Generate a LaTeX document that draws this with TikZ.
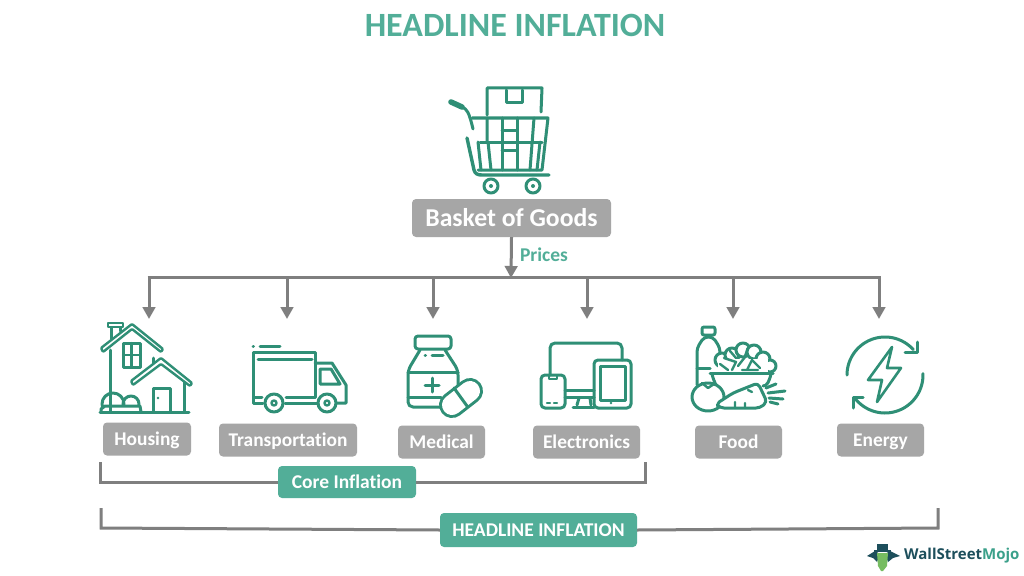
\documentclass[tikz,border=0pt]{standalone}
\usepackage{fontspec}
\setmainfont[Ligatures=NoCommon]{Carlito}
\newfontfamily\logofont{Open Sans}
\usetikzlibrary{arrows.meta}
\definecolor{tealbox}{HTML}{52AE98}
\definecolor{iconc}{HTML}{2F8F76}
\definecolor{greybox}{HTML}{A6A6A6}
\definecolor{linec}{HTML}{7F7F7F}
\definecolor{logodark}{HTML}{1D4F5C}
\definecolor{logoteal}{HTML}{3BA08A}
\tikzset{
  x=1pt,y=-1pt,
  icon/.style={draw=iconc,line width=3pt,line cap=round,line join=round},
  thinicon/.style={draw=iconc,line width=2.4pt,line cap=round,line join=round},
  capsbox/.style={text height=#1,text depth=0pt},
  greylabel/.style={fill=greybox,rounded corners=4pt,inner sep=0pt,text=white,capsbox=12.5pt,font=\bfseries\fontsize{19.4}{19.4}\selectfont},
  tealnode/.style={fill=tealbox,rounded corners=4pt,inner sep=0pt,text=white,capsbox=12.5pt,font=\bfseries\fontsize{19.5}{19.5}\selectfont},
  link/.style={draw=linec,line width=3pt},
  droparrow/.style={draw=linec,line width=3pt,-{Triangle[width=12.5pt,length=12pt]}},
  bracket/.style={draw=linec,line width=3pt,line join=miter}
}
\begin{document}
\begin{tikzpicture}
\useasboundingbox (0,0) rectangle (1024,575);
\fill[white] (0,0) rectangle (1024,575);
% title
\node[text=tealbox,font=\bfseries\fontsize{34}{34}\selectfont,inner sep=0pt,capsbox=21.9pt] (title) at (515,26) {HEADLINE INFLATION};
% nodes
\node[greylabel,minimum width=199pt,minimum height=38pt,capsbox=16.5pt,font=\bfseries\fontsize{25.7}{25.7}\selectfont] (basket) at (511.5,218) {Basket of Goods};
\node[text=tealbox,font=\bfseries\fontsize{19.5}{19.5}\selectfont,inner sep=0pt,capsbox=12.5pt] (prices) at (544,255) {Prices};
\node[greylabel,minimum width=88pt,minimum height=33pt] (housing) at (147,439) {Housing};
\node[greylabel,minimum width=138pt,minimum height=33pt] (transport) at (288,440) {Transportation};
\node[greylabel,minimum width=87pt,minimum height=33pt] (medical) at (441.5,442) {Medical};
\node[greylabel,minimum width=107pt,minimum height=33pt] (electronics) at (586.5,442) {Electronics};
\node[greylabel,minimum width=87pt,minimum height=33pt] (food) at (738.5,442) {Food};
\node[greylabel,minimum width=87pt,minimum height=33pt] (energy) at (880.5,440) {Energy};
\node[tealnode,minimum width=138pt,minimum height=32pt] (core) at (347,482) {Core Inflation};
\node[tealnode,minimum width=197pt,minimum height=34pt] (headline) at (538.5,530) {HEADLINE INFLATION};
% connectors
\coordinate (bus) at (511,278);
\coordinate (busL) at (147.5,277);
\coordinate (busR) at (880.5,277);
\draw[link] (busL) -- (busR);
\draw[droparrow] (basket.south) -- (bus);
\foreach \n/\x in {a/149,b/287,c/433,d/587,e/733,f/879}{
  \coordinate (top\n) at (\x,277);
  \coordinate (end\n) at (\x,319);
  \draw[droparrow] (top\n) -- (end\n);
}
\coordinate (c1) at (100,462); \coordinate (c2) at (100,482);
\coordinate (c3) at (645,482); \coordinate (c4) at (645,462);
\draw[bracket] (c1) -- (c2) -- (core.west);
\draw[bracket] (core.east) -- (c3) -- (c4);
\coordinate (h1) at (101,508); \coordinate (h2) at (101,528);
\coordinate (h3) at (938,528); \coordinate (h4) at (938,508);
\draw[bracket] (h1) -- (h2) -- (headline.west);
\draw[bracket] (headline.east) -- (h3) -- (h4);
% cart
\draw[icon,line width=5.5pt] (451,102) -- (462,107);
\draw[icon] (462,107) .. controls (467,109) and (469,112) .. (473,129);
\draw[icon,line width=3.4pt] (467,138) -- (474,170) .. controls (475,174) and (478,175) .. (482,175) -- (549,175);
\draw[icon] (487,115) -- (487,88) -- (542,88) -- (541,112);
\draw[icon] (506,90) -- (506,103) -- (522,103) -- (522,90);
\draw[icon] (472,118) -- (548,118) -- (542,170) -- (478,170);
\draw[icon] (480,142) -- (542,142);
\draw[icon] (478,142) -- (481,170);
\draw[icon] (487,118) -- (487,142) (488,142) -- (491,170);
\draw[icon] (502,118) -- (502,170);
\draw[icon] (502,130) -- (517,130) (517,118) -- (517,170);
\draw[icon] (534,118) -- (530,170) (540,142) -- (537,170);
\draw[icon] (502,150) -- (517,150);
\draw[icon] (491,186) circle[radius=7pt] (533,186) circle[radius=7pt];
\fill[iconc] (491,186) circle[radius=2pt] (533,186) circle[radius=2pt];
% house
\draw[thinicon,rounded corners=1pt] (101,348) -- (132,324) -- (163,349) -- (161,352) -- (132,329) -- (103,352) -- cycle;
\draw[thinicon] (108,323) rectangle (123,327);
\draw[icon] (111,328) -- (111,339) (120,328) -- (120,331);
\draw[icon] (110,350) -- (110,411);
\draw[icon] (100,412) -- (189,412);
\draw[icon] (123,343) rectangle (140,367);
\draw[thinicon] (123,355) -- (140,355) (131.5,343) -- (131.5,367);
\draw[icon] (153,358) -- (153,363);
\draw[thinicon,rounded corners=1pt] (131,381) -- (161,358) -- (192,383) -- (190,386) -- (161,364) -- (133,385) -- cycle;
\draw[icon] (184,382) -- (184,412);
\draw[icon] (153,411) -- (153,388) -- (170,388) -- (170,411);
\fill[iconc] (158,398) circle[radius=1.3pt];
\begin{scope}
\clip (95,385) rectangle (145,406);
\draw[icon] (113,404) circle[radius=11pt];
\draw[icon] (131,404) circle[radius=8pt];
\end{scope}
\draw[icon] (101,412) -- (101,409) -- (105,406) -- (140,406) -- (141,412);
% truck
\draw[icon] (253,346) -- (253.5,346);
\draw[icon] (260,346) -- (280,346);
\draw[icon] (262,397) -- (253,397) -- (253,352) -- (315,352) -- (315,397) -- (286,397);
\draw[icon] (253,397) -- (253,403) -- (263,403);
\draw[icon] (258,359) -- (312,359);
\draw[icon] (285,403) -- (318,403);
\draw[icon] (315,363) -- (332,363) -- (346,385) -- (346,403) -- (337,403);
\draw[icon] (320,369) -- (331,369) -- (340,384) -- (320,384) -- cycle;
\draw[icon] (274,403) circle[radius=9pt] (327,403) circle[radius=9pt];
\draw[thinicon] (274,403) circle[radius=2.5pt] (327,403) circle[radius=2.5pt];
% medicine
\draw[icon,rounded corners=3pt] (415,336) rectangle (451,349);
\draw[icon,rounded corners=5pt] (420,350) -- (408,370) -- (408,407) -- (445,407);
\draw[icon,rounded corners=5pt] (445,350) -- (458,370) -- (458,388);
\draw[icon] (408,372) -- (458,372);
\draw[icon] (408,397) -- (441,397);
\draw[icon] (425,355) -- (425.5,355) (432,355) -- (443,355);
\draw[icon] (432,378) -- (432,392) (425,385) -- (439,385);
\draw[line width=26pt,draw=iconc,line cap=round] (452,405) -- (470,391);
\draw[line width=20pt,draw=white,line cap=round] (452,405) -- (470,391);
\draw[icon] (454,388) -- (467,406);
% electronics
\draw[icon,rounded corners=5pt] (550,375) -- (550,343) -- (622,343) -- (622,360);
\draw[icon,rounded corners=4pt] (541,375) rectangle (565,408);
\draw[thinicon] (549,376) -- (549,379) -- (557,379) -- (557,376);
\draw[thinicon] (547,403) -- (550,403) (554,403) -- (557,403);
\draw[icon,rounded corners=4pt] (594,360) rectangle (631,408);
\draw[icon] (600,366) rectangle (625,400);
\fill[iconc] (611,403) circle[radius=1.4pt];
\draw[icon] (565,390) -- (594,390) (565,397) -- (594,397);
\draw[icon] (579,398) -- (577,405) (590,398) -- (591,405);
\draw[icon] (573,407) -- (594,407);
% food
\draw[icon,rounded corners=2pt] (702,327) rectangle (715,335);
\draw[icon,rounded corners=4pt] (697,385) -- (697,348) -- (704,337) -- (713,337) -- (720,348) -- (720,355);
\draw[icon] (697,368) -- (710,368);
\foreach \p/\r in {{722,360}/7,{732,355}/7,{743,350}/7,{754,352}/7,{763,359}/7,{770,366}/6}{
  \draw[icon,fill=white] (\p) circle[radius=\r pt];
}
\fill[white] (718,359) rectangle (768,372);
\draw[thinicon] (720,364) -- (728,370) (724,358) -- (736,362) -- (732,370) (738,366) -- (745,357) (747,370) -- (752,360) -- (760,368) (730,351) -- (736,358) (748,348) -- (745,356) (742,370) -- (758,370);
\draw[icon] (710,373) -- (773,373);
\draw[icon] (712,374) .. controls (714,382) and (716,386) .. (720,390);
\draw[icon] (771,374) .. controls (769,382) and (767,386) .. (763,386);
\draw[icon,fill=white] (708,397) ellipse[x radius=16pt,y radius=14pt];
\draw[thinicon] (702,383) -- (708,388) -- (714,384);
\draw[icon,fill=white,rounded corners=4pt] (716,404) -- (733,393) -- (758,383) -- (767,402) -- (760,408) -- (720,408) -- cycle;
\draw[thinicon] (735,408) -- (735,402) (745,408) -- (745,403) (752,392) -- (748,390);
\draw[icon] (766,388) -- (776,384) (768,393) -- (785,391) (769,398) -- (783,399) (770,402) -- (778,404);
% energy
\draw[icon] plot[domain=180:318,samples=40] ({885+38*cos(\x)},{375+38*sin(\x)});
\draw[icon] (917,342) -- (917,352) -- (905,352);
\draw[icon] plot[domain=-2:142,samples=40] ({885+38*cos(\x)},{375+38*sin(\x)});
\draw[icon] (853,408) -- (853,397) -- (863,397);
\draw[icon,line width=2.6pt] (892,347) -- (868,380) -- (882,380) -- (877,402) -- (901,368) -- (887,368) -- cycle;
% logo
\node[anchor=west,inner sep=0pt,font=\logofont\bfseries\fontsize{15}{15}\selectfont] (logo) at (904,556) {\textcolor{logodark}{WallStreet}\textcolor{logoteal}{Mojo}};
\fill[logodark] (877,544) rectangle (888,551);
\fill[logodark] (874,550) rectangle (891,552);
\fill[logodark] (867,556) -- (875,551) -- (880,554) -- (877,562) -- (873,558) -- cycle;
\fill[logodark] (900,556) -- (890,551) -- (885,554) -- (888,562) -- (893,558) -- cycle;
\fill[logoteal!70!yellow] (877,553) -- (888,553) -- (887,566) -- (883,571) -- (881,571) -- (878,566) -- cycle;
\end{tikzpicture}
\end{document}
